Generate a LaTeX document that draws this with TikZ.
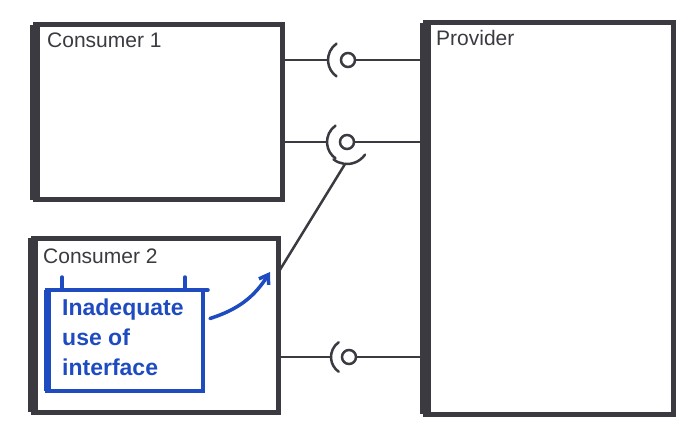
\documentclass[tikz,border=0pt]{standalone}
\usepackage{fontspec}
\setmainfont{Liberation Sans}
\usepackage{tikz}
\usetikzlibrary{arrows.meta}
\definecolor{pen}{RGB}{58,58,64}
\definecolor{marker}{RGB}{30,76,192}
\tikzset{>={Straight Barb[length=3mm,width=4mm]}}
\tikzset{
  compbox/.style={shape=rectangle,draw=pen,line width=5pt,outer sep=0pt,inner sep=0pt},
  spine/.style={draw=pen,line width=10pt},
  title/.style={anchor=base west,inner sep=0pt,text=pen,font=\fontsize{21}{24}\selectfont},
  wire/.style={draw=pen,line width=2.5pt,line cap=round},
  ball/.style={shape=circle,draw=pen,line width=2.5pt,minimum size=14pt,inner sep=0pt,outer sep=0pt},
  note/.style={shape=rectangle,draw=marker,line width=3.5pt,outer sep=0pt,inner sep=0pt},
  notetext/.style={anchor=north west,inner sep=0pt,align=left,text=marker,font=\bfseries\fontsize{23}{30}\selectfont},
  markerline/.style={draw=marker,line width=3.5pt,line cap=round}
}

\begin{document}
\begin{tikzpicture}

\useasboundingbox (0pt,0pt) rectangle (700pt,-438pt);

% components
\path (158.5pt,-112.5pt) node [compbox,minimum width=247pt,minimum height=175pt] (cons1) {};
\path (155.5pt,-325pt) node [compbox,minimum width=245pt,minimum height=174pt] (cons2) {};
\path (549pt,-218.5pt) node [compbox,minimum width=248pt,minimum height=391pt] (prov) {};

\draw [spine] (cons1.north west) -- (cons1.south west);
\draw [spine] (cons2.north west) -- (cons2.south west);
\draw [spine,line width=11pt] (prov.north west) -- (prov.south west);

\path (47pt,-48pt) node [title] (cons1label) {Consumer 1};
\path (43pt,-263pt) node [title] (cons2label) {Consumer 2};
\path (436pt,-46pt) node [title] (provlabel) {Provider};

% interfaces
\path (348pt,-60pt) node [ball] (ball1) {};
\path (347pt,-142pt) node [ball] (ball2) {};
\path (349pt,-357pt) node [ball] (ball3) {};

\draw [wire] (ball1) ++(125:20pt) arc[start angle=125,end angle=235,radius=20pt];
\draw [wire] (ball2) ++(125:20pt) arc[start angle=125,end angle=235,radius=20pt];
\draw [wire] (ball2) ++(232:22pt) arc[start angle=232,end angle=325,radius=22pt];
\draw [wire] (ball3) ++(125:18pt) arc[start angle=125,end angle=235,radius=18pt];

\path (ball1) ++(-20pt,0pt) coordinate (sock1);
\path (ball2) ++(-20pt,0pt) coordinate (sock2);
\path (ball2) ++(265:22pt) coordinate (sock2b);
\path (ball3) ++(-18pt,0pt) coordinate (sock3);
\path (cons2.north east) ++(0pt,-35pt) coordinate (cons2in);

\draw [wire] (cons1.east |- sock1) -- (sock1);
\draw [wire] (ball1) -- (prov.west |- ball1);
\draw [wire] (cons1.east |- sock2) -- (sock2);
\draw [wire] (ball2) -- (prov.west |- ball2);
\draw [wire] (sock2b) -- (cons2in);
\draw [wire] (cons2.east |- sock3) -- (sock3);
\draw [wire] (ball3) -- (prov.west |- ball3);

% misuse note
\path (125pt,-340.5pt) node [note,minimum width=156pt,minimum height=101pt] (misuse) {};
\draw [markerline,line width=7pt,line cap=butt] (misuse.north west) -- (misuse.south west);
\draw [markerline] (misuse.north east) -- ++(5pt,0pt);
\draw [markerline] (misuse.north west) ++(15pt,1pt) -- ++(0pt,12pt);
\draw [markerline] (misuse.north east) ++(-18pt,1pt) -- ++(0pt,12pt);
\path (62pt,-299pt) node [notetext] (misusetext) {Inadequate\\use of\\interface};

\path (misuse.east) ++(7pt,22pt) coordinate (hint0);
\path (cons2.east) ++(-8pt,53pt) coordinate (hint1);
\draw [markerline,->] (hint0) to[bend right=20] (hint1);

\end{tikzpicture}
\end{document}
